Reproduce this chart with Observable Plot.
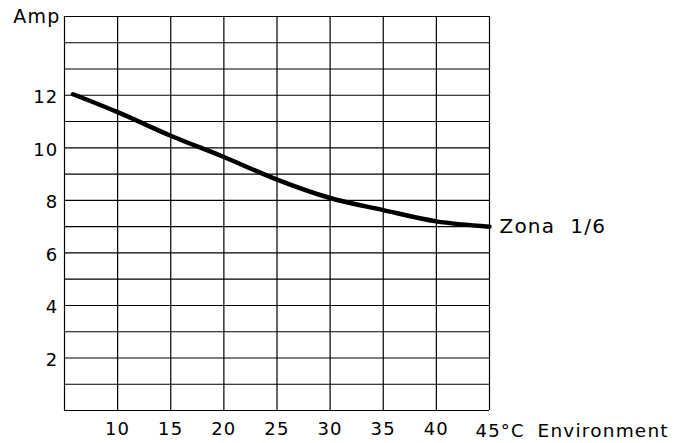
<!DOCTYPE html>
<html>
<head>
<meta charset="utf-8">
<script src="https://cdn.jsdelivr.net/npm/d3@7"></script>
<script src="https://cdn.jsdelivr.net/npm/@observablehq/plot@0.6"></script>
<style>
  html, body { margin: 0; padding: 0; background: #fff; }
  #chart svg { display: block; }
  #chart svg text { letter-spacing: 1.2px; }
</style>
</head>
<body>
<div id="chart"></div>
<script>
// Data
const temps = [5.8, 10, 15, 20, 25, 30, 35, 40, 45];
const amps = [12.04, 11.36, 10.46, 9.65, 8.79, 8.09, 7.63, 7.2, 7.0];
const xTicks = [10, 15, 20, 25, 30, 35, 40];
const yTicks = [2, 4, 6, 8, 10, 12];
const xGrid = [5, 10, 15, 20, 25, 30, 35, 40, 45];
const yGrid = d3.range(0, 16);
const seriesLabel = "Zona\u00a0\u00a01/6";
const yLabel = "Amp";
const xEndLabel = "45°C";
const xLabel = "Environment";

const data = temps.map((t, i) => ({t, a: amps[i]}));
const font = "'DejaVu Sans', sans-serif";

const chart = Plot.plot({
  width: 688,
  height: 443,
  marginLeft: 64,
  marginRight: 199,
  marginTop: 16,
  marginBottom: 33,
  style: {fontFamily: font, fontSize: "18px", color: "#000", background: "#fff"},
  x: {domain: [5, 45], axis: null, label: null},
  y: {domain: [0, 15], axis: null, label: null},
  marks: [
    Plot.ruleX(xGrid, {stroke: "#000", strokeWidth: 1.2}),
    Plot.ruleY(yGrid, {stroke: "#000", strokeWidth: 1.1}),
    Plot.axisX(xTicks, {tickSize: 0, tickPadding: 12, fontSize: 18, fill: "#000", label: null}),
    Plot.axisY(yTicks, {tickSize: 0, tickPadding: 6, fontSize: 18, fill: "#000", dy: 2, label: null}),
    Plot.line(data, {x: "t", y: "a", stroke: "#000", strokeWidth: 4.5, curve: "monotone-x"}),
    Plot.text([seriesLabel], {x: 45, y: amps[amps.length - 1], text: d => d, textAnchor: "start", dx: 10, fontSize: 20, fill: "#000"}),
    Plot.text([yLabel], {x: 5, y: 15, text: d => d, textAnchor: "end", dx: -4, fontSize: 19, fill: "#000"}),
    Plot.text([xEndLabel], {x: 45, y: 0, text: d => d, textAnchor: "start", dx: -14, dy: 21, fontSize: 18, fill: "#000"}),
    Plot.text([xLabel], {x: 45, y: 0, text: d => d, textAnchor: "start", dx: 48, dy: 21, fontSize: 18.5, fill: "#000"})
  ]
});
document.getElementById("chart").appendChild(chart);
</script>
</body>
</html>
